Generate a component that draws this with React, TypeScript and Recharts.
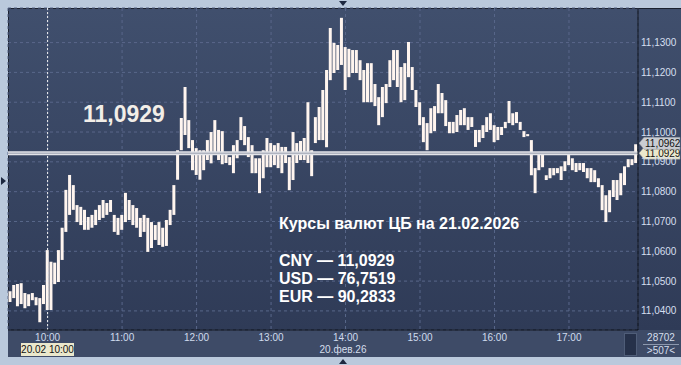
import React from "react";
import {
  ComposedChart,
  Bar,
  XAxis,
  YAxis,
  CartesianGrid,
  ReferenceLine,
} from "recharts";

// minutes from 10:00 (3-minute bars)
const minutes = [
  -30, -27, -24, -21, -18, -15, -12, -9, -6, -3, 0, 3, 6, 9, 12, 15, 18, 21, 24, 27,
  30, 33, 36, 39, 42, 45, 48, 51, 54, 57, 60, 63, 66, 69, 72, 75, 78, 81, 84, 87,
  90, 93, 96, 99, 102, 105, 108, 111, 114, 117, 120, 123, 126, 129, 132, 135, 138, 141, 144, 147,
  150, 153, 156, 159, 162, 165, 168, 171, 174, 177, 180, 183, 186, 189, 192, 195, 198, 201, 204, 207,
  210, 213, 216, 219, 222, 225, 228, 231, 234, 237, 240, 243, 246, 249, 252, 255, 258, 261, 264, 267,
  270, 273, 276, 279, 282, 285, 288, 291, 294, 297, 300, 303, 306, 309, 312, 315, 318, 321, 324, 327,
  330, 333, 336, 339, 342, 345, 348, 351, 354, 357, 360, 363, 366, 369, 372, 375, 378, 381, 384, 387,
  390, 393, 396, 399, 402, 405, 408, 411, 414, 417, 420, 423, 426, 429, 432, 435, 438, 441, 444, 447,
  450, 453, 456, 459, 462, 465, 468, 471, 474,
];

const highs = [
  11.0466, 11.0487, 11.049, 11.0493, 11.046, 11.0456, 11.046, 11.0446, 11.0443, 11.0487,
  11.0604, 11.0565, 11.0562, 11.0604, 11.0679, 11.0806, 11.0856, 11.0822, 11.0755, 11.0749,
  11.0739, 11.0715, 11.0722, 11.0739, 11.0755, 11.0772, 11.0762, 11.0772, 11.0722, 11.0712,
  11.0722, 11.0796, 11.0772, 11.0755, 11.0745, 11.0712, 11.0722, 11.0712, 11.0698, 11.0688,
  11.0698, 11.0679, 11.0705, 11.0739, 11.0822, 11.0939, 11.1047, 11.1151, 11.104, 11.0973,
  11.0946, 11.0939, 11.0939, 11.0973, 11.1, 11.104, 11.1007, 11.1003, 11.0923, 11.0916,
  11.0956, 11.0973, 11.105, 11.102, 11.0983, 11.0956, 11.0912, 11.0912, 11.0939, 11.098,
  11.0963, 11.0956, 11.0963, 11.095, 11.095, 11.0916, 11.1, 11.0963, 11.097, 11.098,
  11.11, 11.0939, 11.105, 11.1084, 11.1141, 11.1208, 11.1349, 11.1299, 11.1292, 11.1383,
  11.1285, 11.1279, 11.1275, 11.1275, 11.1241, 11.1208, 11.1231, 11.1231, 11.1161, 11.1117,
  11.1151, 11.1161, 11.1241, 11.1275, 11.1275, 11.1218, 11.1231, 11.1302, 11.1218, 11.1141,
  11.11, 11.105, 11.103, 11.108, 11.1087, 11.1161, 11.1131, 11.1107, 11.1034, 11.1034,
  11.1057, 11.1074, 11.108, 11.105, 11.105, 11.1007, 11.1007, 11.1023, 11.105, 11.1063,
  11.1023, 11.1017, 11.1017, 11.1034, 11.1104, 11.1063, 11.1067, 11.1034, 11.1003, 11.0993,
  11.0973, 11.0879, 11.0933, 11.0923, 11.0855, 11.0879, 11.0879, 11.0879, 11.0885, 11.0902,
  11.0929, 11.0912, 11.0896, 11.0896, 11.0896, 11.0879, 11.0879, 11.0872, 11.0845, 11.0822,
  11.0788, 11.0805, 11.0839, 11.0839, 11.0862, 11.0885, 11.0909, 11.0909, 11.0959,
];

const lows = [
  11.043, 11.0443, 11.0416, 11.0423, 11.0409, 11.0416, 11.0436, 11.0419, 11.0362, 11.0423,
  11.0403, 11.0403, 11.049, 11.0497, 11.0571, 11.0665, 11.0722, 11.0739, 11.0698, 11.0688,
  11.0672, 11.0672, 11.0679, 11.0688, 11.0705, 11.0712, 11.0722, 11.0732, 11.0665, 11.0655,
  11.0672, 11.0698, 11.0705, 11.0688, 11.0679, 11.0648, 11.0665, 11.0598, 11.0611, 11.0638,
  11.0621, 11.0615, 11.0618, 11.0688, 11.0722, 11.084, 11.0939, 11.099, 11.0946, 11.0872,
  11.0856, 11.084, 11.0872, 11.0906, 11.0895, 11.0923, 11.0906, 11.0892, 11.0896, 11.0889,
  11.0862, 11.0912, 11.0973, 11.0956, 11.0916, 11.0862, 11.0862, 11.0795, 11.0845, 11.0882,
  11.0882, 11.0889, 11.0879, 11.0862, 11.0896, 11.0805, 11.0839, 11.0896, 11.0906, 11.0906,
  11.0896, 11.0852, 11.0963, 11.0973, 11.0973, 11.0949, 11.1174, 11.1198, 11.1208, 11.1225,
  11.1141, 11.1184, 11.1198, 11.1198, 11.1174, 11.11, 11.11, 11.11, 11.1087, 11.1023,
  11.105, 11.1097, 11.1151, 11.1174, 11.1151, 11.11, 11.1107, 11.1184, 11.1141, 11.1084,
  11.1023, 11.0966, 11.0939, 11.0996, 11.1003, 11.1063, 11.1063, 11.102, 11.0996, 11.0996,
  11.1, 11.1023, 11.1023, 11.1007, 11.1017, 11.095, 11.0966, 11.098, 11.1, 11.1007,
  11.0966, 11.0973, 11.099, 11.1013, 11.103, 11.1023, 11.103, 11.1007, 11.0983, 11.0986,
  11.0855, 11.0795, 11.0872, 11.0882, 11.0839, 11.0845, 11.0855, 11.0862, 11.0839, 11.0869,
  11.0889, 11.0872, 11.0866, 11.0872, 11.0866, 11.0845, 11.0832, 11.0832, 11.0815, 11.0738,
  11.0698, 11.0731, 11.0782, 11.0772, 11.0788, 11.0822, 11.0882, 11.0889, 11.0896,
];

const priceTicks = [11.04, 11.05, 11.06, 11.07, 11.08, 11.09, 11.1, 11.11, 11.12, 11.13];
const hourTicks = [0, 60, 120, 180, 240, 300, 360, 420];
const hourLabels = ["10:00", "11:00", "12:00", "13:00", "14:00", "15:00", "16:00", "17:00"];

const lastPrice = 11.0962;
const cbRate = 11.0929;
const rates = ["CNY — 11,0929", "USD — 76,7519", "EUR — 90,2833"];

const data = minutes.map((m, i) => ({ m, range: [lows[i], highs[i]] }));

const fmt = (v: number) => v.toFixed(4).replace(".", ",");
const FONT = "'Liberation Sans', Arial, sans-serif";

function PriceTag({ viewBox, text, fill }: any) {
  if (!viewBox) return null;
  const x = viewBox.x + viewBox.width + 1;
  const y = viewBox.y;
  return (
    <g>
      <polygon
        points={`${x},${y} ${x + 5},${y - 6} ${x + 41},${y - 6} ${x + 41},${y + 6} ${x + 5},${y + 6}`}
        fill={fill}
        stroke="#8a8f99"
        strokeWidth={0.5}
      />
      <text x={x + 6} y={y + 4} fontSize={10} fontFamily={FONT} fill="#111">
        {text}
      </text>
    </g>
  );
}

export default function App() {
  return (
    <div
      style={{
        position: "absolute",
        left: 0,
        top: 0,
        width: 681,
        height: 365,
        background: "#bac9dc",
        overflow: "hidden",
        fontFamily: FONT,
      }}
    >
      {/* plot background */}
      <div
        style={{
          position: "absolute",
          left: 8,
          top: 8,
          width: 673,
          height: 322,
          background: "linear-gradient(#404f6d, #2f3b57)",
          borderTop: "1px solid #1a2130",
          borderLeft: "1px solid #1a2130",
          boxSizing: "border-box",
        }}
      />
      {/* time strip */}
      <div
        style={{
          position: "absolute",
          left: 8,
          top: 330,
          width: 673,
          height: 27,
          background: "#3e4b67",
        }}
      />
      <div style={{ position: "absolute", left: 624, top: 333, width: 13, height: 23, background: "#26314a", border: "1px solid #4f5d78", boxSizing: "border-box" }} />
      <div
        style={{
          position: "absolute",
          left: 21,
          top: 343,
          width: 53,
          height: 13,
          background: "#ebe8cc",
          color: "#111",
          fontSize: 10,
          lineHeight: "13px",
          textAlign: "center",
        }}
      >
        20.02 10:00
      </div>
      <div style={{ position: "absolute", left: 300, top: 344, width: 86, textAlign: "center", fontSize: 10, color: "#d5deec" }}>
        20.фев.26
      </div>
      <div style={{ position: "absolute", left: 641, top: 332, width: 40, textAlign: "center", fontSize: 10, color: "#d5deec", lineHeight: "12px" }}>
        <div style={{ borderBottom: "1px solid #8c98ae", margin: "0 2px" }}>28702</div>
        <div>&gt;507&lt;</div>
      </div>
      {/* markers */}
      <div style={{ position: "absolute", left: 339, top: 1, width: 0, height: 0, borderLeft: "4px solid transparent", borderRight: "4px solid transparent", borderTop: "5px solid #1d2840" }} />
      <div style={{ position: "absolute", left: 339, top: 359, width: 0, height: 0, borderLeft: "4px solid transparent", borderRight: "4px solid transparent", borderBottom: "5px solid #1d2840" }} />
      <div style={{ position: "absolute", left: 1, top: 177, width: 0, height: 0, borderTop: "4px solid transparent", borderBottom: "4px solid transparent", borderLeft: "5px solid #1d2840" }} />

      <div style={{ position: "absolute", left: 0, top: 0 }}>
        <ComposedChart
          width={681}
          height={365}
          data={data}
          margin={{ top: 8, left: 8, right: 3, bottom: 8 }}
          barCategoryGap={0}
          style={{ overflow: "visible" }}
        >
          <CartesianGrid stroke="#59678a" strokeDasharray="3 3" />
          <XAxis
            dataKey="m"
            type="number"
            domain={[-31.9, 475.6]}
            ticks={hourTicks}
            interval={0}
            allowDataOverflow
            height={27}
            tickSize={0}
            tickMargin={4}
            axisLine={{ stroke: "#0b0e16" }}
            tickLine={false}
            tick={{ fontSize: 10, fill: "#cfdbee", fontFamily: FONT }}
            tickFormatter={(v: number) => hourLabels[hourTicks.indexOf(v)] ?? ""}
          />
          <YAxis
            orientation="right"
            domain={[11.0336, 11.1416]}
            ticks={priceTicks}
            interval={0}
            allowDataOverflow
            width={40}
            tickSize={0}
            tickMargin={3}
            axisLine={{ stroke: "#0b0e16" }}
            tickLine={false}
            tick={{ fontSize: 10, fill: "#d5dfef", fontFamily: FONT }}
            tickFormatter={fmt}
          />
          <ReferenceLine x={0} stroke="#f4f4f4" strokeDasharray="2 2" strokeWidth={1} />
          <Bar dataKey="range" fill="#fff5ef" barSize={3} isAnimationActive={false} />
          <ReferenceLine y={cbRate} stroke="#e2e3e8" strokeWidth={4} />
          <ReferenceLine
            y={cbRate}
            stroke="#9aa0ae"
            strokeWidth={1}
            label={(p: any) => <PriceTag viewBox={p.viewBox} text={fmt(cbRate)} fill="#ebe8cc" />}
          />
          <ReferenceLine
            y={lastPrice}
            stroke="none"
            label={(p: any) => <PriceTag viewBox={p.viewBox} text={fmt(lastPrice)} fill="#c9ccd2" />}
          />
        </ComposedChart>
      </div>

      {/* overlay texts */}
      <div style={{ position: "absolute", left: 83, top: 101, fontSize: 23, fontWeight: "bold", color: "#f2eee8" }}>
        {fmt(cbRate)}
      </div>
      <div style={{ position: "absolute", left: 279, top: 215, fontSize: 16, fontWeight: "bold", color: "#ffffff", lineHeight: "18px" }}>
        Курсы валют ЦБ на 21.02.2026
      </div>
      <div style={{ position: "absolute", left: 279, top: 252, fontSize: 16, fontWeight: "bold", color: "#ffffff", lineHeight: "18px" }}>
        {rates.map((r) => (
          <div key={r}>{r}</div>
        ))}
      </div>
    </div>
  );
}
